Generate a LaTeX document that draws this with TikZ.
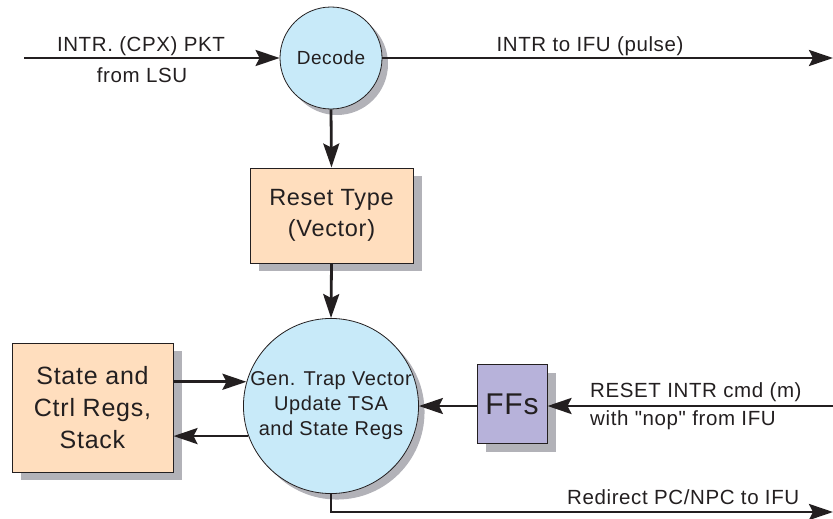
\documentclass[tikz,border=0pt]{standalone}
\usepackage{fontspec}
\setmainfont{Liberation Sans}[Ligatures=TeXOff,LetterSpace=3]
\usetikzlibrary{arrows.meta,calc,shadows}
\definecolor{cfill}{RGB}{200,234,249}
\definecolor{pfill}{RGB}{255,222,190}
\definecolor{lfill}{RGB}{183,178,218}
\definecolor{shad}{RGB}{178,178,184}
\definecolor{ink}{RGB}{35,31,32}
\tikzset{
  conn/.style={line width=2.8pt, draw=ink, -{Stealth[length=24pt,width=16pt,inset=4pt]}},
  circshad/.style={drop shadow={shadow xshift=6pt,shadow yshift=-6pt,fill=shad,opacity=1}},
  boxshad/.style={drop shadow={shadow xshift=9pt,shadow yshift=-8pt,fill=shad,opacity=1}},
  circ/.style={circle, draw=ink, line width=0.8pt, fill=cfill, inner sep=0pt, align=center, text=ink, circshad},
  box/.style={rectangle, draw=ink, line width=1pt, inner sep=0pt, align=center, text=ink, boxshad},
  lbl/.style={inner sep=0pt, text=ink, font=\fontsize{20.5}{24}\selectfont}
}
\begin{document}
\begin{tikzpicture}[x=1pt,y=-1pt]
\useasboundingbox (0,0) rectangle (833,519);
% nodes
\node[circ, minimum size=102pt, font=\fontsize{19}{22}\selectfont] (dec) at (331,58) {Decode};
\node[box, fill=pfill, minimum width=163pt, minimum height=95pt, font=\fontsize{23.5}{31.5}\selectfont] (rst) at (331.5,215.5) {Reset Type\\(Vector)};
\node[circ, minimum size=172pt, font=\fontsize{20}{25}\selectfont] (gen) at (331,406) {Gen. Trap Vector\\Update TSA\\and State Regs};
\node[box, fill=pfill, minimum width=161pt, minimum height=129pt, font=\fontsize{25}{32}\selectfont] (st) at (92.5,407.5) {State and\\Ctrl Regs,\\Stack};
\node[box, fill=lfill, minimum width=70pt, minimum height=79pt, font=\fontsize{30}{34}\selectfont] (ff) at (512,404) {FFs};
% free ends
\coordinate (inL) at (24,58);
\coordinate (outR) at (833,58);
\coordinate (rin) at (833,406);
\coordinate (rout) at (833,512);
% connectors
\draw[conn] (inL) -- (dec.west);
\draw[conn] (dec.east) -- (outR);
\draw[conn] (dec.south) -- (rst.north);
\draw[conn] (rst.south) -- (gen.north);
\draw[conn] (st.east |- gen.164.5) -- (gen.164.5);
\draw[conn] (gen.200.4) -- (st.east |- gen.200.4);
\draw[conn] (ff.west |- gen.east) -- (gen.east);
\draw[conn] (rin) -- (rin -| ff.east);
\draw[conn] (gen.south) |- (rout);
% labels
\node[lbl, anchor=base] (l1) at (141,52) {INTR. (CPX) PKT};
\node[lbl, anchor=base] (l2) at (142,82) {from LSU};
\node[lbl, anchor=base] (l3) at (590,52) {INTR to IFU (pulse)};
\node[lbl, anchor=base west] (l4) at (590,397) {RESET INTR cmd (m)};
\node[lbl, anchor=base west] (l5) at (590,425) {with "nop" from IFU};
\node[lbl, anchor=base west] (l6) at (567,504) {Redirect PC/NPC to IFU};
\end{tikzpicture}
\end{document}
